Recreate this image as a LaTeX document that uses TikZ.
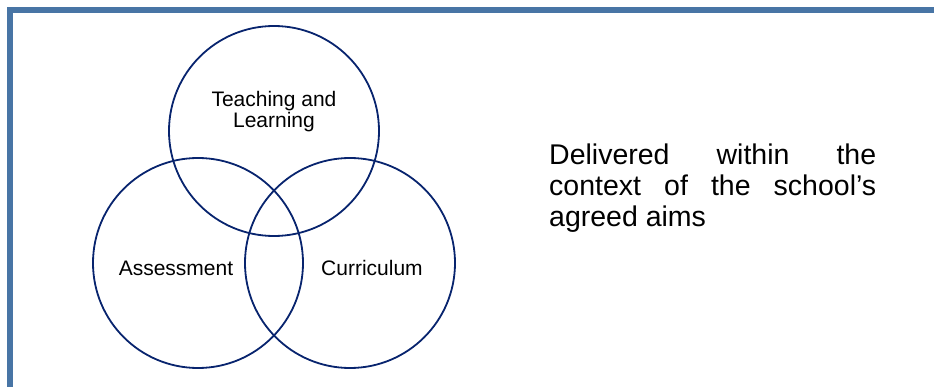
\documentclass[tikz,border=0pt]{standalone}
\usepackage{fontspec}
\setmainfont{Liberation Sans}

\definecolor{framecol}{RGB}{72,117,165}
\definecolor{ringcol}{RGB}{8,36,110}

\tikzset{
  ring/.style={circle, draw=ringcol, line width=1.8pt, minimum size=210pt, inner sep=0pt},
  ringtext/.style={font=\fontsize{21}{21}\selectfont, align=center, inner sep=0pt}
}

\begin{document}
\begin{tikzpicture}[x=1pt,y=-1pt]
\useasboundingbox (0,0) rectangle (934,387);
\clip (0,0) rectangle (934,387);

% frame, only top and left edges show
\draw[framecol, line width=5.7pt] (9.8,420) -- (9.8,9.8) -- (960,9.8);

% the three circles
\node[ring] (teach) at (274,131) {};
\node[ring] (assess) at (198,263) {};
\node[ring] (curric) at (350,263) {};

\node[ringtext] (teachtxt) at ([yshift=19pt]teach.center) {Teaching and\\Learning};
\node[ringtext] (assesstxt) at ([xshift=-22pt,yshift=-5pt]assess.center) {Assessment};
\node[ringtext] (currictxt) at ([xshift=22pt,yshift=-5pt]curric.center) {Curriculum};

% side text
\node[anchor=north west, inner sep=0pt, align=left, font=\fontsize{28.5}{31}\selectfont] (aims) at (549,144)
  {\makebox[327pt][s]{Delivered within the}\\
   \makebox[327pt][s]{context of the school’s}\\
   agreed aims};
\end{tikzpicture}
\end{document}
